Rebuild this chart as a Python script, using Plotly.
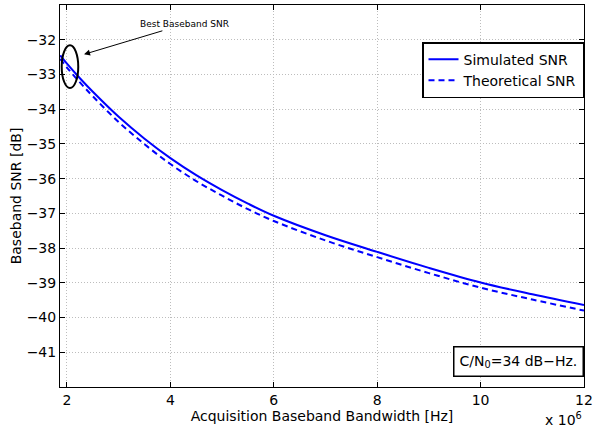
import plotly.graph_objects as go

# Acquisition baseband bandwidth [Hz]
bandwidth_hz = [1.87e6, 2.0e6, 2.25e6, 2.5e6, 3.0e6, 3.5e6, 4.0e6, 4.5e6, 5.0e6, 5.5e6,
                6.0e6, 7.0e6, 8.0e6, 9.0e6, 10.0e6, 11.0e6, 12.0e6]
simulated_snr = [-32.45, -32.69, -33.11, -33.50, -34.22, -34.85, -35.41, -35.90, -36.33, -36.72,
                 -37.07, -37.63, -38.11, -38.57, -38.99, -39.33, -39.64]
theoretical_snr = [-32.55, -32.80, -33.23, -33.63, -34.37, -35.01, -35.58, -36.07, -36.49, -36.88,
                   -37.22, -37.78, -38.26, -38.72, -39.14, -39.48, -39.80]

x_tick_vals = [2e6, 4e6, 6e6, 8e6, 10e6, 12e6]
x_tick_text = ["2", "4", "6", "8", "10", "12"]
y_tick_vals = [-41, -40, -39, -38, -37, -36, -35, -34, -33, -32]

FONT = "DejaVu Sans, Verdana, sans-serif"

fig = go.Figure()
fig.add_trace(go.Scatter(x=bandwidth_hz, y=simulated_snr, mode="lines", name="Simulated SNR",
                         line=dict(color="#0000FF", width=2, shape="spline", smoothing=1.0)))
fig.add_trace(go.Scatter(x=bandwidth_hz, y=theoretical_snr, mode="lines", name="Theoretical SNR",
                         line=dict(color="#0000FF", width=2, dash="6px,4px", shape="spline",
                                   smoothing=1.0)))

axis_common = dict(showline=True, linecolor="black", linewidth=1, mirror="ticks",
                   ticks="inside", ticklen=5, tickcolor="black",
                   showgrid=True, gridcolor="#bdbdbd", griddash="1px,2px", gridwidth=1,
                   zeroline=False, tickfont=dict(size=14, color="black", family=FONT))

fig.update_xaxes(range=[1.865e6, 12e6], tickvals=x_tick_vals, ticktext=x_tick_text,
                 title=dict(text="Acquisition Baseband Bandwidth [Hz]", standoff=0,
                            font=dict(size=14, color="black", family=FONT)),
                 **axis_common)
fig.update_yaxes(range=[-42, -31], tickvals=y_tick_vals,
                 title=dict(text="Baseband SNR [dB]", standoff=1,
                            font=dict(size=14, color="black", family=FONT)),
                 **axis_common)

# Ellipse marking best SNR
fig.add_shape(type="circle", xref="x", yref="y", x0=1.898e6, x1=2.218e6, y0=-33.39, y1=-32.16,
              line=dict(color="black", width=2))

annotations = [
    dict(x=2.33e6, y=-32.42, xref="x", yref="y", text="Best Baseband SNR",
         showarrow=True, arrowhead=2, arrowsize=1.2, arrowwidth=1, arrowcolor="black",
         ax=100, ay=-30, font=dict(size=9, color="black", family=FONT)),
    dict(x=1.0, y=-41.26, xref="paper", yref="y", xanchor="right", yanchor="middle",
         text="C/N<sub>0</sub>=34 dB\u2212Hz.", showarrow=False,
         bordercolor="black", borderwidth=1.5, borderpad=5, bgcolor="white",
         font=dict(size=14, color="black", family=FONT)),
    dict(x=1.0, y=-0.055, xref="paper", yref="paper", xanchor="right", yanchor="top",
         text="x 10<sup>6</sup>", showarrow=False,
         font=dict(size=14, color="black", family=FONT)),
]
fig.update_layout(
    width=597, height=436,
    margin=dict(l=60, r=13, t=5, b=49),
    paper_bgcolor="white", plot_bgcolor="white",
    font=dict(family=FONT, size=14, color="black"),
    annotations=annotations,
    legend=dict(x=1.0, y=0.903, xanchor="right", yanchor="top",
                bgcolor="white", bordercolor="black", borderwidth=1.5,
                font=dict(size=14, color="black", family=FONT),
                itemwidth=30, tracegroupgap=0),
    showlegend=True,
)

fig.write_html("out.html", config={"displayModeBar": False},
               post_script="document.body.style.margin='0px';")
